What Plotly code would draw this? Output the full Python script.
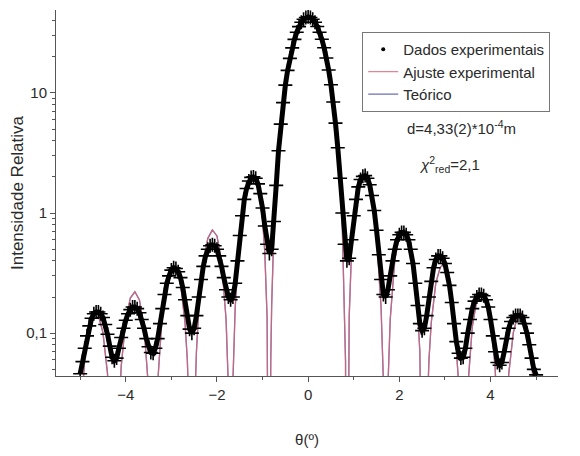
import plotly.graph_objects as go

dados_x = [round(-5.0 + 0.05 * i, 2) for i in range(201)]
dados_y = [
    # -5.00 .. -0.05
    0.046, 0.058, 0.075, 0.095, 0.115, 0.133, 0.145, 0.15, 0.15, 0.145,
    0.135, 0.118, 0.098, 0.078, 0.063, 0.059, 0.062, 0.075, 0.092, 0.11,
    0.128, 0.145, 0.157, 0.165, 0.165, 0.16, 0.148, 0.13, 0.11, 0.09,
    0.077, 0.069, 0.068, 0.075, 0.09, 0.12, 0.16, 0.21, 0.26, 0.30,
    0.335, 0.35, 0.345, 0.325, 0.29, 0.24, 0.19, 0.14, 0.108, 0.10,
    0.11, 0.14, 0.20, 0.28, 0.36, 0.44, 0.50, 0.535, 0.545, 0.535,
    0.50, 0.44, 0.36, 0.29, 0.23, 0.20, 0.19, 0.20, 0.26, 0.40,
    0.65, 0.95, 1.3, 1.6, 1.85, 1.98, 2.0, 1.95, 1.75, 1.45,
    1.1, 0.78, 0.55, 0.46, 0.50, 0.85, 1.7, 3.3, 5.5, 8.3,
    11.6, 15.4, 19.4, 23.7, 27.9, 32.0, 35.6, 38.7, 41.0, 42.5,
    # 0.00
    43.0,
    # 0.05 .. 5.00
    42.5, 41.0, 38.8, 35.7, 32.0, 28.0, 23.8, 19.5, 15.5, 11.7,
    8.4, 5.6, 3.5, 1.95, 1.0, 0.55, 0.40, 0.42, 0.60, 0.95,
    1.3, 1.65, 1.9, 2.02, 2.05, 1.95, 1.72, 1.4, 1.05, 0.72,
    0.45, 0.28, 0.21, 0.20, 0.23, 0.30, 0.40, 0.50, 0.60, 0.66,
    0.69, 0.69, 0.66, 0.60, 0.50, 0.38, 0.26, 0.17, 0.12, 0.105,
    0.11, 0.14, 0.20, 0.27, 0.35, 0.41, 0.44, 0.44, 0.42, 0.38,
    0.32, 0.25, 0.18, 0.12, 0.085, 0.068, 0.062, 0.063, 0.075, 0.10,
    0.13, 0.16, 0.185, 0.20, 0.21, 0.21, 0.205, 0.19, 0.165, 0.13,
    0.095, 0.07, 0.057, 0.054, 0.057, 0.07, 0.09, 0.11, 0.125, 0.135,
    0.14, 0.14, 0.14, 0.135, 0.12, 0.10, 0.08, 0.062, 0.05, 0.045,
]

# Fitted / theoretical curves
curva_x = [
    -5.0, -4.9, -4.8, -4.7, -4.65, -4.6, -4.5, -4.4, -4.3, -4.25, -4.2, -4.1,
    -4.0, -3.9, -3.8, -3.7, -3.6, -3.5, -3.45, -3.4, -3.35, -3.3, -3.2, -3.1,
    -3.0, -2.95, -2.9, -2.8, -2.7, -2.65, -2.6, -2.55, -2.5, -2.45, -2.4, -2.3,
    -2.2, -2.1, -2.0, -1.9, -1.8, -1.75, -1.7, -1.65, -1.6, -1.5, -1.4, -1.3,
    -1.2, -1.1, -1.0, -0.95, -0.9, -0.88, -0.85, -0.82, -0.8, -0.75, -0.7, -0.6,
    -0.5, -0.4, -0.3, -0.2, -0.1,
    0.0,
    0.1, 0.2, 0.3, 0.4, 0.5, 0.6, 0.7, 0.75, 0.8, 0.82, 0.85, 0.88,
    0.9, 0.95, 1.0, 1.1, 1.2, 1.3, 1.4, 1.5, 1.6, 1.65, 1.7, 1.75,
    1.8, 1.9, 2.0, 2.1, 2.2, 2.3, 2.4, 2.45, 2.5, 2.55, 2.6, 2.65,
    2.7, 2.8, 2.9, 2.95, 3.0, 3.1, 3.2, 3.3, 3.35, 3.4, 3.45, 3.5,
    3.6, 3.7, 3.8, 3.9, 4.0, 4.1, 4.2, 4.25, 4.3, 4.4, 4.5, 4.6,
    4.65, 4.7, 4.8, 4.9, 5.0,
]
ajuste_y = [
    0.0167, 0.061, 0.112, 0.145, 0.148, 0.141, 0.101, 0.0461, 0.0059, 1e-4, 0.0062, 0.0532,
    0.128, 0.196, 0.221, 0.189, 0.113, 0.0343, 0.0092, 1e-4, 0.0097, 0.0384, 0.142, 0.268,
    0.355, 0.367, 0.355, 0.262, 0.122, 0.060, 0.0161, 1e-4, 0.0174, 0.070, 0.155, 0.388,
    0.616, 0.724, 0.645, 0.405, 0.130, 0.036, 1e-4, 0.040, 0.163, 0.648, 1.32, 1.89,
    2.07, 1.70, 0.891, 0.467, 0.135, 0.051, 1e-4, 0.058, 0.169, 0.745, 1.83, 5.69,
    11.9, 20.0, 28.7, 36.5, 42.0,
    44.0,
    42.0, 36.5, 28.7, 20.0, 11.9, 5.69, 1.83, 0.745, 0.169, 0.058, 1e-4, 0.051,
    0.135, 0.467, 0.891, 1.70, 2.07, 1.89, 1.32, 0.648, 0.163, 0.040, 1e-4, 0.036,
    0.130, 0.405, 0.645, 0.724, 0.616, 0.388, 0.155, 0.070, 0.0174, 1e-4, 0.0161, 0.060,
    0.122, 0.262, 0.355, 0.367, 0.355, 0.268, 0.142, 0.0384, 0.0097, 1e-4, 0.0092, 0.0343,
    0.113, 0.189, 0.221, 0.196, 0.128, 0.0532, 0.0062, 1e-4, 0.0059, 0.0461, 0.101, 0.141,
    0.148, 0.145, 0.112, 0.061, 0.0167,
]
# theoretical curve coincides with the fit within the picture's resolution
teorico_y = list(ajuste_y)

x_ticks = [-4, -2, 0, 2, 4]

FONT = "Liberation Sans, Arial, sans-serif"
TXT = "#2a2a2a"
AX = "#555555"

fig = go.Figure()
fig.add_trace(go.Scatter(
    x=curva_x, y=teorico_y, mode="lines", name="Teórico",
    line=dict(color="#6a70b0", width=1.3), legendrank=3,
))
fig.add_trace(go.Scatter(
    x=curva_x, y=ajuste_y, mode="lines", name="Ajuste experimental",
    line=dict(color="#d9667a", width=1.3), opacity=0.8, legendrank=2,
))
fig.add_trace(go.Scatter(
    x=dados_x, y=dados_y, mode="lines+markers", name="Dados experimentais",
    line=dict(color="black", width=5),
    marker=dict(symbol="cross-thin", size=10, color="black",
                line=dict(color="black", width=1.6)),
    showlegend=False,
))
fig.add_trace(go.Scatter(
    x=[None], y=[None], mode="markers", name="Dados experimentais",
    marker=dict(symbol="circle", size=4, color="black"), legendrank=1,
))

fig.update_layout(
    width=572, height=448,
    margin=dict(l=48, r=22, t=2, b=80),
    paper_bgcolor="white", plot_bgcolor="white",
    separators=",.",
    font=dict(family=FONT, size=15, color=TXT),
    showlegend=True,
    legend=dict(
        x=0.61, y=0.94, xanchor="left", yanchor="top",
        bordercolor="#777777", borderwidth=1, bgcolor="white",
        font=dict(size=15, color=TXT), tracegroupgap=0,
        itemwidth=30,
    ),
    xaxis=dict(
        range=[-5.53, 5.48], tickvals=x_ticks, automargin=False,
        ticks="outside", ticklen=5, tickcolor=AX, tickwidth=1,
        showline=True, linecolor=AX, linewidth=1, mirror=False,
        showgrid=False, zeroline=False,
        minor=dict(dtick=1, tick0=1, ticks="outside", ticklen=3, tickcolor=AX, showgrid=False),
        title=dict(text="θ(º)", standoff=32, font=dict(size=15)),
        tickfont=dict(size=15),
    ),
    yaxis=dict(
        type="log", range=[-1.3565, 1.6902], dtick=1, automargin=False,
        ticks="outside", ticklen=5, tickcolor=AX, tickwidth=1,
        showline=True, linecolor=AX, linewidth=1, mirror=False,
        showgrid=False, zeroline=False,
        minor=dict(dtick="D1", ticks="outside", ticklen=3, tickcolor=AX, showgrid=False),
        title=dict(text="Intensidade Relativa", standoff=2, font=dict(size=17)),
        tickfont=dict(size=15),
    ),
    annotations=[
        dict(x=0.807, y=0.678, xref="paper", yref="paper", showarrow=False,
             xanchor="center", yanchor="middle",
             text="d=4,33(2)*10<sup>-4</sup>m", font=dict(size=15, color=TXT)),
        dict(x=0.783, y=0.577, xref="paper", yref="paper", showarrow=False,
             xanchor="center", yanchor="middle",
             text="<i>χ</i><sup>2</sup><sub>red</sub>=2,1", font=dict(size=15, color=TXT)),
    ],
)

fig.write_html("out.html")
